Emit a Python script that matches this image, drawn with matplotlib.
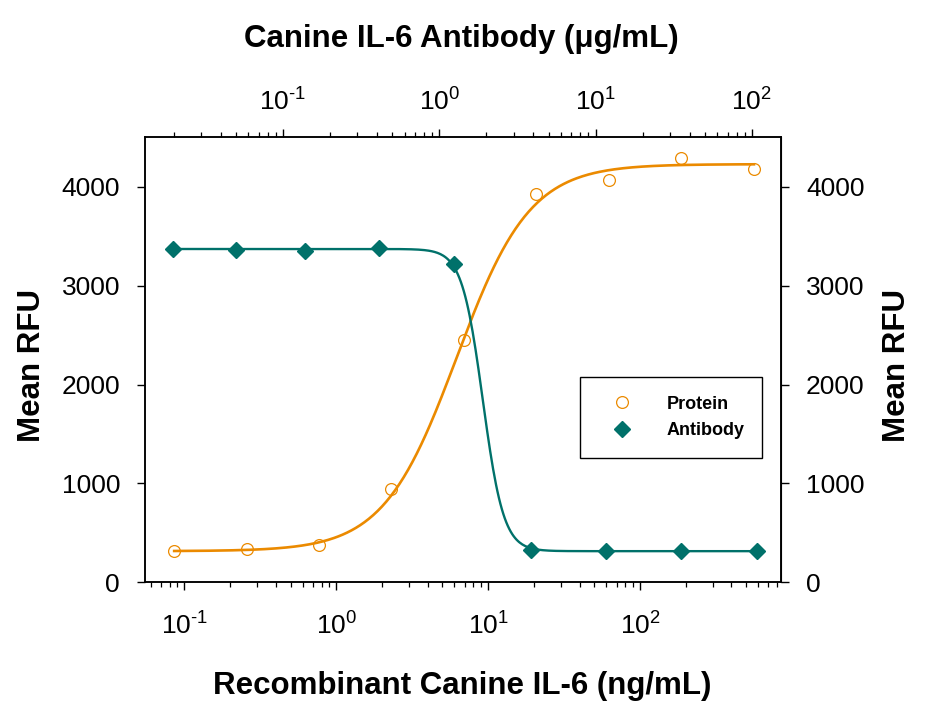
import numpy as np
import matplotlib
matplotlib.use("Agg")
import matplotlib.pyplot as plt
from matplotlib.lines import Line2D
from matplotlib.ticker import FuncFormatter

plt.rcParams['font.family'] = ['Liberation Sans Narrow', 'Liberation Sans', 'DejaVu Sans']
plt.rcParams['font.stretch'] = 'condensed'
plt.rcParams['axes.unicode_minus'] = False
plt.rcParams['mathtext.fontset'] = 'custom'
plt.rcParams['mathtext.rm'] = 'Liberation Sans'

# donnees
protein_ng = [0.0857, 0.257, 0.772, 2.31, 6.94, 20.8, 62.5, 187.5, 562.5]
protein_rfu = [320, 339, 374, 939, 2447, 3929, 4074, 4293, 4182]
antibody_ug = [0.0197, 0.0498, 0.139, 0.412, 1.24, 3.86, 11.7, 35.4, 107]
antibody_rfu = [3374, 3364, 3347, 3380, 3222, 326, 316, 316, 316]

# parametres des courbes 4PL (estimes)
protein_fit = {"bottom": 315, "top": 4230, "ec50": 6.2, "hill": 1.8}
antibody_fit = {"bottom": 315, "top": 3372, "ec50": 1.9, "hill": 6.5}

ORANGE = "#EB8A00"
TEAL = "#00716A"

def four_pl(x, p, rising=True):
    r = (p["ec50"] / x) if rising else (x / p["ec50"])
    return p["bottom"] + (p["top"] - p["bottom"]) / (1 + r ** p["hill"])

def puissance(v, pos):
    k = int(round(np.log10(v)))
    e = str(k).replace("-", r"\text{-}")
    return r"$\mathregular{10^{" + e + "}}$"

fig = plt.figure(figsize=(9.26, 7.15), dpi=100)
ax = fig.add_axes([0.1566, 0.1856, 0.6868, 0.6221])
ax_top = ax.twiny()

# courbes
xp = np.logspace(np.log10(protein_ng[0]), np.log10(protein_ng[-1]), 400)
ax.plot(xp, four_pl(xp, protein_fit, True), color=ORANGE, lw=1.9, zorder=2)
ax.plot(protein_ng, protein_rfu, 'o', mfc='none', mec=ORANGE, mew=0.9, ms=8.5, zorder=3)

xa = np.logspace(np.log10(antibody_ug[0]), np.log10(antibody_ug[-1]), 400)
ax_top.plot(xa, four_pl(xa, antibody_fit, False), color=TEAL, lw=1.7, zorder=2)
ax_top.plot(antibody_ug, antibody_rfu, 'D', color=TEAL, ms=8, zorder=3)

# axes
ax.set_xscale('log')
ax_top.set_xscale('log')
ax.set_xlim(10 ** -1.259, 10 ** 2.928)
ax_top.set_xlim(10 ** -1.882, 10 ** 2.186)
ax.xaxis.set_major_formatter(FuncFormatter(puissance))
ax_top.xaxis.set_major_formatter(FuncFormatter(puissance))
ax.set_ylim(0, 4500)
ax.set_yticks([0, 1000, 2000, 3000, 4000])

ax_r = ax.secondary_yaxis('right')
ax_r.set_yticks([0, 1000, 2000, 3000, 4000])

for a in (ax, ax_top):
    for s in a.spines.values():
        s.set_linewidth(1.1)

ax.tick_params(axis='x', which='major', direction='out', length=6, width=1, labelsize=19, pad=16)
ax.tick_params(axis='x', which='minor', direction='out', length=3.5, width=0.9)
ax.tick_params(axis='y', direction='out', length=6, width=1, labelsize=19, pad=12)
ax_top.tick_params(axis='x', which='major', direction='out', length=6, width=1, labelsize=19, pad=10)
ax_top.tick_params(axis='x', which='minor', direction='out', length=3.5, width=0.9)
ax_r.tick_params(axis='y', direction='out', length=6, width=1, labelsize=19, pad=12)

# titres des axes
fig.text(0.4995, 0.0406, "Recombinant Canine IL-6 (ng/mL)", ha='center', va='center',
         fontsize=22.5, fontweight='bold')
fig.text(0.4984, 0.9455, "Canine IL-6 Antibody (μg/mL)", ha='center', va='center',
         fontsize=22.5, fontweight='bold')
fig.text(0.0346, 0.4895, "Mean RFU", ha='center', va='center', rotation=90,
         fontsize=22.5, fontweight='bold')
fig.text(0.9687, 0.4895, "Mean RFU", ha='center', va='center', rotation=90,
         fontsize=22.5, fontweight='bold')

# legende
handles = [Line2D([], [], ls='none', marker='o', mfc='none', mec=ORANGE, mew=0.9, ms=8.5),
           Line2D([], [], ls='none', marker='D', color=TEAL, ms=8)]
leg = ax_top.legend(handles, ["Protein", "Antibody"], loc='center',
                    bbox_to_anchor=(0.8275, 0.3705), bbox_transform=ax.transAxes,
                    frameon=True, fancybox=False, edgecolor='black', framealpha=1,
                    prop={'size': 13, 'weight': 'bold'}, borderpad=1.0,
                    handlelength=2.67, handletextpad=1.1, labelspacing=0.55)
leg.get_frame().set_linewidth(1.0)

fig.savefig("out.png", dpi=100)
